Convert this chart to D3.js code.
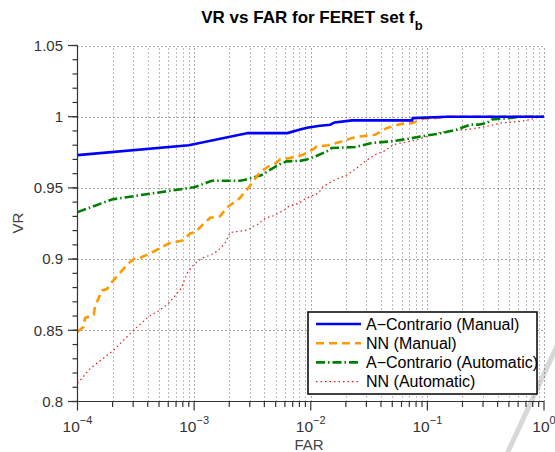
<!DOCTYPE html>
<html><head><meta charset="utf-8">
<script src="https://cdn.jsdelivr.net/npm/d3@7"></script>
<style>
body{margin:0;background:#fff;}
svg{display:block;font-family:"Liberation Sans",Arial,Helvetica,sans-serif;}
</style></head>
<body>
<svg id="chart" width="555" height="452"></svg>
<script>
// ---- data (FAR, VR) ----
const seriesNames = ["A\u2212Contrario (Manual)","NN (Manual)","A\u2212Contrario (Automatic)","NN (Automatic)"];
const acManual = [[1e-4,0.973],[9e-4,0.980],[2.9e-3,0.9885],[6.3e-3,0.9885],[8.1e-3,0.991],[9.3e-3,0.9923],[1.2e-2,0.9937],[1.47e-2,0.9944],[1.6e-2,0.996],[2.26e-2,0.9974],[7.4e-2,0.9974],[7.5e-2,0.999],[1.48e-1,1.0],[1,1.0]];
const nnManual = [[1e-4,0.849],[1.13e-4,0.8525],[1.16e-4,0.8587],[1.38e-4,0.861],[1.41e-4,0.8666],[1.62e-4,0.878],[1.79e-4,0.879],[1.98e-4,0.884],[2.66e-4,0.896],[3.04e-4,0.900],[3.46e-4,0.901],[4.21e-4,0.904],[6.05e-4,0.911],[7.87e-4,0.913],[9.27e-4,0.918],[1.02e-3,0.919],[1.37e-3,0.929],[1.67e-3,0.930],[1.9e-3,0.936],[2.48e-3,0.943],[2.64e-3,0.946],[2.92e-3,0.950],[3.67e-3,0.961],[4.33e-3,0.965],[4.94e-3,0.967],[5.45e-3,0.970],[6.64e-3,0.971],[8.59e-3,0.9733],[1.09e-2,0.978],[1.12e-2,0.979],[1.41e-2,0.980],[1.84e-2,0.9826],[2.25e-2,0.985],[2.56e-2,0.986],[3.56e-2,0.9873],[4.48e-2,0.992],[6.03e-2,0.995],[7.35e-2,0.9955],[8.11e-2,0.9967],[9.55e-2,0.999],[1.05e-1,0.9986],[1.42e-1,1.0],[1,1.0]];
const acAuto = [[1e-4,0.933],[2e-4,0.942],[1e-3,0.9505],[1.13e-3,0.952],[1.42e-3,0.955],[2.48e-3,0.955],[2.74e-3,0.9557],[3.12e-3,0.957],[3.8e-3,0.959],[4.33e-3,0.962],[4.78e-3,0.964],[5.45e-3,0.9667],[6.22e-3,0.9686],[8.09e-3,0.969],[9.24e-3,0.970],[1.09e-2,0.972],[1.37e-2,0.9756],[1.51e-2,0.978],[2.4e-2,0.9787],[3.33e-2,0.9815],[4.79e-2,0.9826],[6.65e-2,0.9843],[9.55e-2,0.9866],[0.124,0.988],[0.179,0.991],[0.232,0.9944],[0.274,0.9944],[0.323,0.9956],[0.356,0.998],[0.495,0.999],[0.645,1.0],[1,1.0]];
const nnAuto = [[1e-4,0.8127],[1.29e-4,0.8233],[1.73e-4,0.8314],[2.04e-4,0.836],[2.66e-4,0.8455],[3.02e-4,0.850],[4.08e-4,0.8596],[5.1e-4,0.8643],[6.05e-4,0.869],[7.57e-4,0.8783],[7.87e-4,0.8807],[8.69e-4,0.890],[9.89e-4,0.896],[1.16e-3,0.9006],[1.28e-3,0.9018],[1.42e-3,0.9034],[1.56e-3,0.9053],[1.73e-3,0.9088],[1.88e-3,0.9123],[2.03e-3,0.9187],[2.59e-3,0.9198],[2.92e-3,0.9205],[3.18e-3,0.9229],[3.56e-3,0.9245],[3.88e-3,0.9276],[4.33e-3,0.9295],[4.78e-3,0.9304],[5.38e-3,0.9327],[6.02e-3,0.9346],[6.43e-3,0.9369],[7.1e-3,0.9381],[7.98e-3,0.9393],[8.64e-3,0.9416],[9.86e-3,0.944],[1.16e-2,0.9463],[1.28e-2,0.951],[1.61e-2,0.9557],[2.04e-2,0.959],[2.48e-2,0.9639],[2.92e-2,0.9686],[3.56e-2,0.9733],[4.2e-2,0.9756],[5.11e-2,0.9803],[5.83e-2,0.9815],[7.11e-2,0.9826],[8.11e-2,0.9838],[9.89e-2,0.9861],[0.120,0.9885],[0.147,0.9897],[0.210,0.9909],[0.265,0.992],[0.323,0.9932],[0.434,0.9956],[0.624,0.9967],[0.760,0.9979],[0.927,1.0],[1,1.0]];
const yTicks = [0.8,0.85,0.9,0.95,1,1.05];
const yTickLabels = ["0.8","0.85","0.9","0.95","1","1.05"];
const xTicks = [1e-4,1e-3,1e-2,1e-1,1];
const xTickExp = ["\u22124","\u22123","\u22122","\u22121","0"];

const svg = d3.select("#chart");
const L=77.5, R=544, T=45.5, B=401.5;
const x = d3.scaleLog().domain([1e-4,1]).range([L,R]);
const y = d3.scaleLinear().domain([0.8,1.05]).range([B,T]);

// watermark streak
svg.append("line").attr("x1",563).attr("y1",333).attr("x2",506).attr("y2",456)
  .attr("stroke","#d8d8d8").attr("stroke-width",5).attr("stroke-linecap","round");

// grid
const minorX = [];
for (let e=-4;e<0;e++) for (let m=2;m<=9;m++) minorX.push(m*Math.pow(10,e));
const grid = svg.append("g").attr("stroke","#555").attr("stroke-width",1).attr("stroke-dasharray","1,3");
grid.selectAll(".vm").data(minorX).join("line").attr("x1",d=>Math.round(x(d))+0.5).attr("x2",d=>Math.round(x(d))+0.5).attr("y1",B).attr("y2",T).attr("stroke","#7a7a7a");
grid.selectAll(".vM").data(xTicks.slice(1)).join("line").attr("x1",d=>Math.round(x(d))+0.5).attr("x2",d=>Math.round(x(d))+0.5).attr("y1",B).attr("y2",T);
grid.selectAll(".h").data(yTicks.slice(1)).join("line").attr("x1",L).attr("x2",R).attr("y1",d=>Math.round(y(d))+0.5).attr("y2",d=>Math.round(y(d))+0.5);

// series
const line = d3.line().x(d=>x(d[0])).y(d=>y(d[1]));
const styles = [
  {data:acManual, color:"#0000ff", w:2.6, dash:null},
  {data:nnManual, color:"#ff9900", w:2.6, dash:"8,5"},
  {data:acAuto,  color:"#008000", w:2.6, dash:"9,3,1.5,3"},
  {data:nnAuto,  color:"#e02020", w:1.2, dash:"1.5,3"}
];
[3,2,1,0].forEach(i=>{
  const s=styles[i];
  svg.append("path").attr("d",line(s.data)).attr("fill","none").attr("stroke",s.color)
    .attr("stroke-width",s.w).attr("stroke-dasharray",s.dash);
});

// axes
const yMinor = d3.range(80,106).map(v=>v/100);
const ax = svg.append("g").attr("stroke","#333").attr("stroke-width",1.2);
ax.append("line").attr("x1",L).attr("x2",L).attr("y1",B+0.5).attr("y2",T);
ax.append("line").attr("x1",L).attr("x2",R).attr("y1",B).attr("y2",B);
ax.selectAll(".ym").data(yMinor).join("line").attr("x1",L-5).attr("x2",L).attr("y1",d=>y(d)).attr("y2",d=>y(d));
ax.selectAll(".yM").data(yTicks).join("line").attr("x1",L-9.5).attr("x2",L).attr("y1",d=>y(d)).attr("y2",d=>y(d));
ax.selectAll(".xm").data(minorX).join("line").attr("x1",d=>x(d)).attr("x2",d=>x(d)).attr("y1",B).attr("y2",B+5.5);
ax.selectAll(".xM").data(xTicks).join("line").attr("x1",d=>x(d)).attr("x2",d=>x(d)).attr("y1",B).attr("y2",B+9);

svg.append("g").selectAll("text").data(yTicks).join("text")
  .attr("x",L-14.5).attr("y",d=>y(d)).attr("dy","0.35em").attr("text-anchor","end")
  .attr("font-size",15).attr("fill","#333").text((d,i)=>yTickLabels[i]);

const xl = svg.append("g").selectAll("text").data(xTicks).join("text")
  .attr("x",d=>x(d)).attr("y",432).attr("text-anchor","middle").attr("font-size",15.5).attr("fill","#333");
xl.append("tspan").text("10");
xl.append("tspan").attr("dy",-8).attr("font-size",11).text((d,i)=>xTickExp[i]);

// labels
svg.append("text").attr("x",309).attr("y",450).attr("text-anchor","middle").attr("font-size",15).attr("fill","#444").text("FAR");
svg.append("text").attr("transform","translate(23,223) rotate(-90)").attr("text-anchor","middle").attr("font-size",15).attr("fill","#444").text("VR");
const title = svg.append("text").attr("x",312).attr("y",23).attr("text-anchor","middle").attr("font-size",17).attr("font-weight","bold").attr("fill","#000");
title.append("tspan").text("VR vs FAR for FERET set f");
title.append("tspan").attr("dy",7).attr("font-size",13).text("b");

// legend
const lg = svg.append("g");
lg.append("rect").attr("x",308).attr("y",312).attr("width",229).attr("height",82).attr("fill","#fff").attr("stroke","#000").attr("stroke-width",1.5);
styles.forEach((s,i)=>{
  const yy = 324 + i*19.2;
  lg.append("line").attr("x1",316).attr("x2",361).attr("y1",yy).attr("y2",yy)
    .attr("stroke",s.color).attr("stroke-width",s.w).attr("stroke-dasharray",s.dash);
  lg.append("text").attr("x",366).attr("y",yy).attr("dy","0.36em").attr("font-size",16).attr("fill","#000").text(seriesNames[i]);
});
</script>
</body></html>
